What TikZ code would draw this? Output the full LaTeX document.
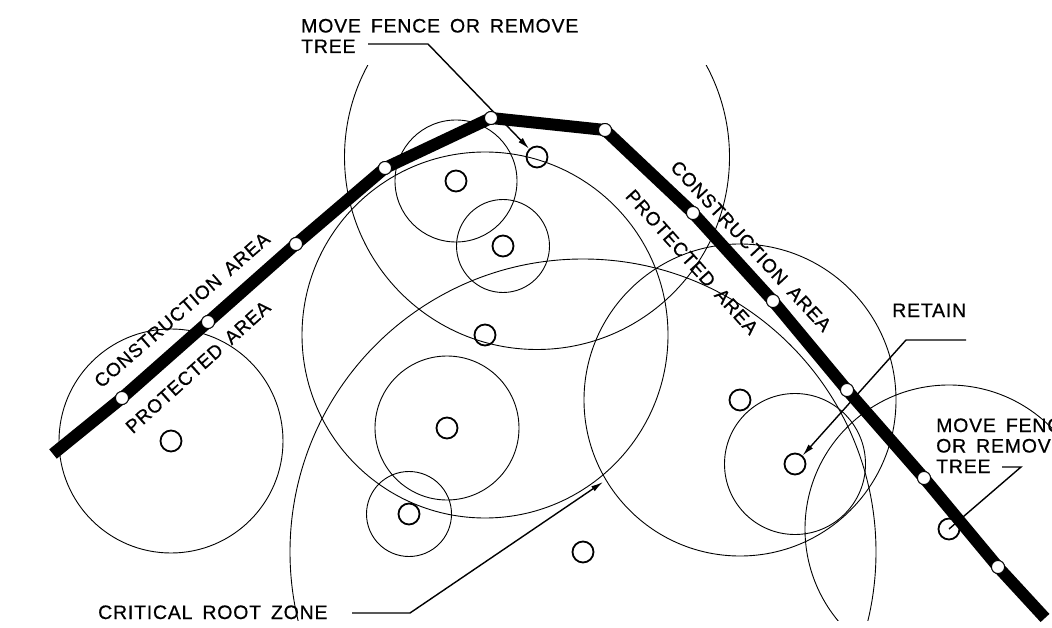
\documentclass[tikz,border=0pt]{standalone}
\usepackage{fontspec}
\usetikzlibrary{arrows.meta}
\setmainfont{Liberation Sans}[LetterSpace=4,WordSpace=1.6,FakeBold=0.6]
\begin{document}
\begin{tikzpicture}[x=1pt,y=-1pt,
zone/.style={shape=circle,draw=black,line width=0.9pt,inner sep=0pt},
tree/.style={shape=circle,draw=black,line width=1.8pt,inner sep=0pt,minimum size=21pt},
post/.style={shape=circle,draw=black,line width=0.9pt,fill=white,inner sep=0pt,minimum size=13pt},
fence/.style={line width=12pt},
leader/.style={line width=1.4pt},
tip/.style={-{Latex[length=12pt,width=6pt]}},
note/.style={font=\fontsize{19.5}{20.5}\selectfont,align=left,inner sep=0pt},
areatext/.style={font=\fontsize{19}{20}\selectfont,inner sep=0pt}]
\useasboundingbox (0,0) rectangle (1052,628);
\def\clipT{66};
\def\clipB{620};

\begin{scope}
\clip (0,\clipT) rectangle (1052,\clipB);
\node[zone,minimum size=224pt] (zoneA) at (171,441) {};
\node[zone,minimum size=122pt] (zoneB) at (456,181) {};
\node[zone,minimum size=93pt] (zoneC) at (503,246) {};
\node[zone,minimum size=366pt] (zoneD) at (485,335) {};
\node[zone,minimum size=144pt] (zoneE) at (447,428) {};
\node[zone,minimum size=85pt] (zoneF) at (409,514) {};
\node[zone,minimum size=385pt] (zoneG) at (537,157) {};
\node[zone,minimum size=586pt] (zoneH) at (583,552) {};
\node[zone,minimum size=312pt] (zoneI) at (740,400) {};
\node[zone,minimum size=141pt] (zoneJ) at (795,464) {};
\node[zone,minimum size=288pt] (zoneK) at (949,529) {};
\end{scope}

\node[tree] (treeA) at (171,441) {};
\node[tree] (treeB) at (456,181) {};
\node[tree] (treeC) at (503,246) {};
\node[tree] (treeD) at (485,335) {};
\node[tree] (treeE) at (447,428) {};
\node[tree] (treeF) at (409,514) {};
\node[tree] (treeG) at (537,157) {};
\node[tree] (treeH) at (583,552) {};
\node[tree] (treeI) at (740,400) {};
\node[tree] (treeJ) at (795,464) {};
\node[tree] (treeK) at (949,529) {};

\node[note,anchor=base west] (noteG) at (301,53) {MOVE FENCE OR REMOVE\\TREE};
\node[note,anchor=base west] (noteK) at (936,473) {MOVE FENCE\\OR REMOVE\\TREE};
\node[note,anchor=base west] (noteJ) at (892,317) {RETAIN};
\node[note,anchor=base west] (noteH) at (98,619) {CRITICAL ROOT ZONE};

\coordinate (leadG) at (368,44);
\coordinate (bendG) at (428,44);
\coordinate (leadJ) at (966,340);
\coordinate (bendJ) at (906,340);
\coordinate (leadK) at (1002,467);
\coordinate (bendK) at (1021,467);
\coordinate (leadH) at (352,613);
\coordinate (bendH) at (410,613);
\coordinate (tipH) at (603,482);
\draw[leader] (treeG) -- (treeG.center);
\draw[leader,tip] (leadG) -- (bendG) -- (treeG);
\draw[leader,tip] (leadJ) -- (bendJ) -- (treeJ);
\draw[leader] (leadK) -- (bendK) -- (treeK.center);
\draw[leader,tip] (leadH) -- (bendH) -- (tipH);

\coordinate (fenceS) at (53,454);
\coordinate (fenceE) at (1045,618);
\node[post] (postA) at (122,398) {};
\node[post] (postB) at (208,322) {};
\node[post] (postC) at (296,244) {};
\node[post] (postD) at (385,168) {};
\node[post] (postE) at (491,118) {};
\node[post] (postF) at (605,130) {};
\node[post] (postG) at (693,213) {};
\node[post] (postH) at (773,301) {};
\node[post] (postI) at (847,390) {};
\node[post] (postJ) at (924,478) {};
\node[post] (postK) at (998,567) {};
\draw[fence] (fenceS) -- (postA.center) -- (postB.center) -- (postC.center) -- (postD.center) -- (postE.center) -- (postF.center) -- (postG.center) -- (postH.center) -- (postI.center) -- (postJ.center) -- (postK.center) -- (fenceE);
\foreach \p in {postA,postB,postC,postD,postE,postF,postG,postH,postI,postJ,postK}
  \node[post] at (\p) {};

\node[areatext,rotate=41] (constrL) at (182,310) {CONSTRUCTION AREA};
\node[areatext,rotate=42] (protL) at (198,367) {PROTECTED AREA};
\node[areatext,rotate=-47] (constrR) at (751,246) {CONSTRUCTION AREA};
\node[areatext,rotate=-48] (protR) at (692,262) {PROTECTED AREA};
\end{tikzpicture}
\end{document}
